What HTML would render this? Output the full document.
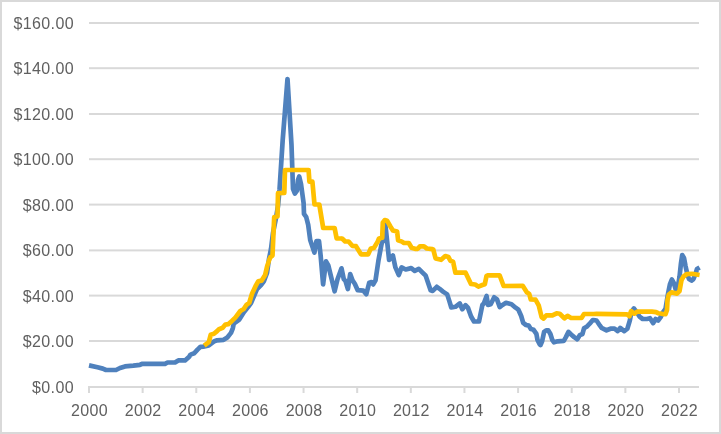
<!DOCTYPE html>
<html><head><meta charset="utf-8"><style>
html,body{margin:0;padding:0;background:#fff;}
body{width:721px;height:434px;overflow:hidden;position:relative;}
svg{position:absolute;left:0;top:0;}
text{font-family:"Liberation Sans",sans-serif;font-size:16px;fill:#606060;}
.t{will-change:transform;}
</style></head><body>
<svg width="721" height="434" viewBox="0 0 721 434">
<rect x="1" y="1" width="719" height="432" fill="#fff" stroke="#d9d9d9" stroke-width="2"/>
<rect x="89" y="340.00" width="610" height="2" fill="#d9d9d9"/>
<rect x="89" y="294.60" width="610" height="2" fill="#d9d9d9"/>
<rect x="89" y="249.40" width="610" height="2" fill="#d9d9d9"/>
<rect x="89" y="203.60" width="610" height="2" fill="#d9d9d9"/>
<rect x="89" y="158.20" width="610" height="2" fill="#d9d9d9"/>
<rect x="89" y="113.00" width="610" height="2" fill="#d9d9d9"/>
<rect x="89" y="67.20" width="610" height="2" fill="#d9d9d9"/>
<rect x="89" y="22.00" width="610" height="2" fill="#d9d9d9"/>

<rect x="88" y="386" width="611" height="2" fill="#d9d9d9"/>
<rect x="88.00" y="387" width="2" height="6" fill="#d9d9d9"/>
<rect x="141.64" y="387" width="2" height="6" fill="#d9d9d9"/>
<rect x="195.27" y="387" width="2" height="6" fill="#d9d9d9"/>
<rect x="248.91" y="387" width="2" height="6" fill="#d9d9d9"/>
<rect x="302.55" y="387" width="2" height="6" fill="#d9d9d9"/>
<rect x="356.18" y="387" width="2" height="6" fill="#d9d9d9"/>
<rect x="409.82" y="387" width="2" height="6" fill="#d9d9d9"/>
<rect x="463.45" y="387" width="2" height="6" fill="#d9d9d9"/>
<rect x="517.09" y="387" width="2" height="6" fill="#d9d9d9"/>
<rect x="570.73" y="387" width="2" height="6" fill="#d9d9d9"/>
<rect x="624.36" y="387" width="2" height="6" fill="#d9d9d9"/>
<rect x="678.00" y="387" width="2" height="6" fill="#d9d9d9"/>

<g class="t">
<text x="73.9" y="392.70" text-anchor="end" letter-spacing="0.35">$0.00</text>
<text x="73.9" y="347.20" text-anchor="end" letter-spacing="0.35">$20.00</text>
<text x="73.9" y="301.70" text-anchor="end" letter-spacing="0.35">$40.00</text>
<text x="73.9" y="256.20" text-anchor="end" letter-spacing="0.35">$60.00</text>
<text x="73.9" y="210.70" text-anchor="end" letter-spacing="0.35">$80.00</text>
<text x="73.9" y="165.20" text-anchor="end" letter-spacing="0.35">$100.00</text>
<text x="73.9" y="119.70" text-anchor="end" letter-spacing="0.35">$120.00</text>
<text x="73.9" y="74.20" text-anchor="end" letter-spacing="0.35">$140.00</text>
<text x="73.9" y="28.70" text-anchor="end" letter-spacing="0.35">$160.00</text>

<text x="89.50" y="415.7" text-anchor="middle" letter-spacing="0.3">2000</text>
<text x="143.14" y="415.7" text-anchor="middle" letter-spacing="0.3">2002</text>
<text x="196.77" y="415.7" text-anchor="middle" letter-spacing="0.3">2004</text>
<text x="250.41" y="415.7" text-anchor="middle" letter-spacing="0.3">2006</text>
<text x="304.05" y="415.7" text-anchor="middle" letter-spacing="0.3">2008</text>
<text x="357.68" y="415.7" text-anchor="middle" letter-spacing="0.3">2010</text>
<text x="411.32" y="415.7" text-anchor="middle" letter-spacing="0.3">2012</text>
<text x="464.95" y="415.7" text-anchor="middle" letter-spacing="0.3">2014</text>
<text x="518.59" y="415.7" text-anchor="middle" letter-spacing="0.3">2016</text>
<text x="572.23" y="415.7" text-anchor="middle" letter-spacing="0.3">2018</text>
<text x="625.86" y="415.7" text-anchor="middle" letter-spacing="0.3">2020</text>
<text x="679.50" y="415.7" text-anchor="middle" letter-spacing="0.3">2022</text>

</g>
<polyline fill="none" stroke="#4F81BD" stroke-width="4.7" stroke-linejoin="round" stroke-linecap="butt" points="89,365.4 97.5,367.3 102.8,368.6 106,370 116,370 120,368 125,366.4 133.3,365.6 140,364.8 142.5,363.8 165,363.8 167.5,362.5 175,362.5 178.3,360.4 185,360.4 189.2,356.7 190.5,354.6 194.2,353.3 197.5,349.6 200.5,346.8 203.3,346.6 208.8,345.4 214.4,341.2 217.1,340.3 223.6,339.8 227.3,337.5 231,332.9 232.8,328.3 233.7,323.7 239.3,319.5 244,312 248,307 251,303 254,296 257,289 261,285 264,281 267,273 269,259 271,249 273,233 276,218 278,206 279.5,190 282.7,140 287.5,79 291.5,145 293,189 294.8,193.5 297,190.5 298,180 299.2,176.5 301,184 303.6,203 304,213.8 306.2,217 308.2,224.9 310.2,240 314.4,252.5 316.5,241 319,241 320.6,255.2 323.1,284.4 326,261.3 328.3,265.4 334.6,291.3 337.5,279.2 341.5,268.3 343.8,279.2 345.5,281 347.9,289 350.2,274 352.5,280.4 354.8,283.8 357.7,290.2 363.4,290.7 366.3,294.2 369.2,282.7 371.5,282.1 373.2,284.4 375.5,280.4 378.4,260.8 381.5,244.2 383.4,239.1 385.3,223.9 389.1,260 392.9,255.6 395.4,267.4 398.8,275 401.6,267.4 405.7,269.5 411.2,268.1 414.7,270.9 418.8,268.8 422.3,272.3 425.7,275.7 427.8,281.9 430.6,290.2 432.7,290.9 436.8,286.8 439.6,288.8 443,291.6 447.2,294.4 449.2,300.6 451.3,307.5 455.4,306.8 459.8,303.5 462.3,309.2 465.5,305.2 467.9,307.6 471.1,316.5 474,321.5 479,321.5 482.4,304.9 483.8,303.5 486.6,296 488,304.9 490.7,304.2 494.2,297.3 497,299.4 499.7,307 502.5,304.9 506,302.8 511.5,304.2 515.6,307.7 518.4,309.7 521.2,316 523.2,322.9 526,325 528.8,325.6 530.9,329.1 533.6,329.8 536.4,333.9 537.5,340 539.5,344 540.5,345 542.1,341.3 544.1,331.9 546.2,330.4 548.3,330.4 550.4,334 552.4,340.2 554,342.3 557.6,341.3 563.8,340.8 565.9,337.1 568.5,331.9 571.1,334.5 574.2,337.1 577.3,339.2 579.9,335.1 582.5,334 584,328.3 586.6,326.8 589.7,323.7 592.8,320 596.5,320.5 600,325.7 601.6,327.9 606.5,330.3 610.5,328.7 614.5,328.7 617.7,331.1 620.2,327.9 624.2,331.1 627.4,328.7 629.8,320.6 631.5,311.8 633.9,308.5 637.1,312.6 639.5,316.6 642.7,319 646.8,319 650,318.2 653.2,323.1 655.6,319 658.1,320.6 660.5,317.4 662.9,312.5 665.5,309 667,300 668.2,293 670,284 671.8,279.5 674,283.5 676.2,291 678,286 679.5,277 681,263 682.2,255 684,258 685.5,266 687.5,275 689,279 691.5,280.5 693.5,279 695.5,274 697,269 699.6,267.5"/>
<polyline fill="none" stroke="#FFC000" stroke-width="4.7" stroke-linejoin="round" stroke-linecap="butt" points="204.2,345.6 208.8,342.1 210.7,334.8 213.9,333.8 217.1,331.1 219,329.2 222.7,327.8 225.4,324.6 228.2,324.2 231.9,320.9 235.3,317.6 240.3,311 243.7,309 246.5,304.8 249.3,302.7 252,293.8 255.5,286.2 258.2,281.3 261.7,280.6 265.1,275.1 267.2,266.1 269.3,259.6 270.5,257 272.5,255.5 274.2,217 277.5,216.5 278,193.2 284.3,193 285,170 308.6,170 309.4,181.7 312.4,181.7 314.5,204.5 319.3,204.5 323.2,228 334.6,228 336.6,238.3 342.1,238.5 345.2,241.5 348.6,241.5 352.3,245.8 356,246.2 361,254.3 368.2,254.3 370.8,248.6 373.9,248 377.7,241.6 379,238.5 382.2,237.8 382.8,222.7 384.7,220.1 387.2,220.8 390.4,226.5 392.9,230.5 397.1,231.6 398.1,240.2 401.9,241.6 404,243 408.8,243 411.6,247.8 415,248.8 417.8,248.8 419.9,246.4 424,246.4 426.8,248.5 432.3,249.2 433.3,249.7 435.6,258.5 441.1,259.8 445.3,256.1 448.5,257.1 450.4,260.8 453.1,261.7 455.4,272.7 465.6,272.7 471,284 475.2,284.5 478.4,286.6 482.4,285 484.8,284.2 486.5,276 488.3,275.3 499.6,275.3 503.6,286 522.7,285.8 526.8,292.3 529.2,293.9 530.8,299.5 535.5,299.7 538.7,305.3 541.6,317 543.6,318.5 546.2,315.4 552.4,315.4 556.6,313.3 559.7,313.8 564.4,318.3 567.5,315.9 571.1,318 581.5,318 584,314 593.9,314 596.5,313.8 627,314.3 629.4,316.3 631.1,311.1 634.2,313.7 637.3,311.6 651.9,311.6 656,312.1 658.1,313.2 662,313.8 665.5,314.2 667,310 667.5,300 668.8,294.5 671.5,292.4 677,293.6 679.5,291 681.5,280 683.5,276.5 687,274 692,273.8 699.6,275"/>
</svg>
</body></html>
